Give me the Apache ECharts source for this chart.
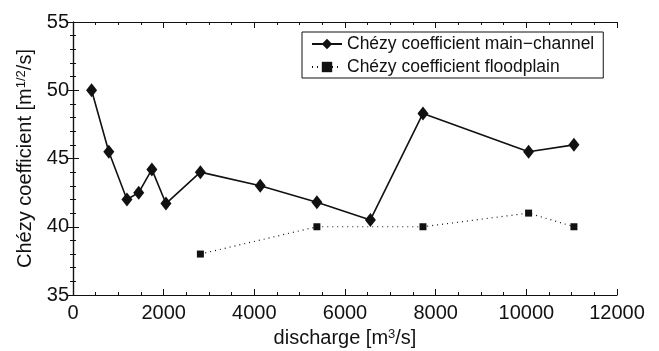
<!DOCTYPE html>
<html>
<head>
<meta charset="utf-8">
<script src="https://cdn.jsdelivr.net/npm/echarts@6/dist/echarts.min.js"></script>
<style>
  html, body { margin: 0; padding: 0; background: #fff; }
  #chart { width: 659px; height: 351px; }
</style>
</head>
<body>
<div id="chart"></div>
<script>
// Discharge (m3/s) and Chézy coefficient (m^1/2/s)
const mainDischarge = [410, 790, 1190, 1450, 1740, 2050, 2810, 4130, 5380, 6560, 7720, 10050, 11050];
const mainChezy     = [50.0, 45.5, 42.0, 42.5, 44.2, 41.7, 44.0, 43.0, 41.8, 40.5, 48.3, 45.5, 46.0];
const floodDischarge = [2810, 5380, 7720, 10050, 11050];
const floodChezy     = [38.0, 40.0, 40.0, 41.0, 40.0];
const xTicks = [0, 2000, 4000, 6000, 8000, 10000, 12000];
const yTicks = [35, 40, 45, 50, 55];

const seriesNames = ['Chézy coefficient main\u2212channel', 'Chézy coefficient floodplain'];
const ink = '#111';
const font = 'Liberation Sans, Arial, sans-serif';

const pair = (xs, ys) => xs.map((x, i) => [x, ys[i]]);

function axisLook(splitNumber) {
  return {
    axisLine: { show: true, lineStyle: { color: ink, width: 1.2 } },
    axisTick: { show: true, inside: true, length: 6, lineStyle: { color: ink, width: 1 } },
    minorTick: { show: true, splitNumber: splitNumber, length: 3, lineStyle: { color: ink, width: 1 } },
    splitLine: { show: false },
    minorSplitLine: { show: false }
  };
}

const nameRich = {
  t: { fontFamily: font, fontSize: 20, color: ink },
  s: { fontFamily: font, fontSize: 13, color: ink, verticalAlign: 'top', padding: [0, 0, 8, 0] }
};

const chart = echarts.init(document.getElementById('chart'), null, { renderer: 'canvas' });
chart.setOption({
  backgroundColor: '#fff',
  animation: false,
  textStyle: { fontFamily: font, color: ink },
  grid: { left: 73, right: 42, top: 22, bottom: 56, containLabel: false, outerBoundsMode: 'none' },
  legend: {
    orient: 'vertical',
    left: 302,
    top: 32,
    data: seriesNames,
    backgroundColor: '#fff',
    borderColor: ink,
    borderWidth: 1,
    borderRadius: 0,
    padding: [3, 9, 2, 9],
    itemGap: 5,
    itemWidth: 30,
    itemHeight: 13,
    textStyle: { fontFamily: font, fontSize: 17.5, color: ink }
  },
  xAxis: [
    Object.assign({
      type: 'value', min: xTicks[0], max: xTicks[xTicks.length - 1], interval: xTicks[1] - xTicks[0],
      axisLabel: { fontFamily: font, fontSize: 20, color: ink, margin: 8, formatter: v => String(v) },
      name: '{t|discharge [m}{s|3}{t|/s]}',
      nameLocation: 'middle',
      nameGap: 23,
      nameTextStyle: { rich: nameRich }
    }, axisLook(4)),
    Object.assign({
      type: 'value', position: 'top', min: xTicks[0], max: xTicks[xTicks.length - 1], interval: xTicks[1] - xTicks[0],
      axisLabel: { show: false }
    }, axisLook(4))
  ],
  yAxis: [
    Object.assign({
      type: 'value', min: yTicks[0], max: yTicks[yTicks.length - 1], interval: yTicks[1] - yTicks[0],
      axisLabel: { fontFamily: font, fontSize: 20, color: ink, margin: 4, formatter: v => String(v) },
      name: '{t|Chézy coefficient [m}{s|1/2}{t|/s]}',
      nameLocation: 'middle',
      nameGap: 34,
      nameTextStyle: { rich: nameRich }
    }, axisLook(5)),
    Object.assign({
      type: 'value', position: 'right', min: yTicks[0], max: yTicks[yTicks.length - 1], interval: yTicks[1] - yTicks[0],
      axisLabel: { show: false }
    }, axisLook(5))
  ],
  series: [
    {
      name: seriesNames[0],
      type: 'line',
      data: pair(mainDischarge, mainChezy),
      symbol: 'diamond',
      symbolSize: [11, 14],
      itemStyle: { color: ink },
      lineStyle: { color: ink, width: 1.6 },
      z: 3
    },
    {
      name: seriesNames[1],
      type: 'line',
      data: pair(floodDischarge, floodChezy),
      symbol: 'rect',
      symbolSize: 7,
      itemStyle: { color: ink },
      lineStyle: { color: ink, width: 1.2, type: [1, 4] },
      z: 2
    }
  ]
});
</script>
</body>
</html>
